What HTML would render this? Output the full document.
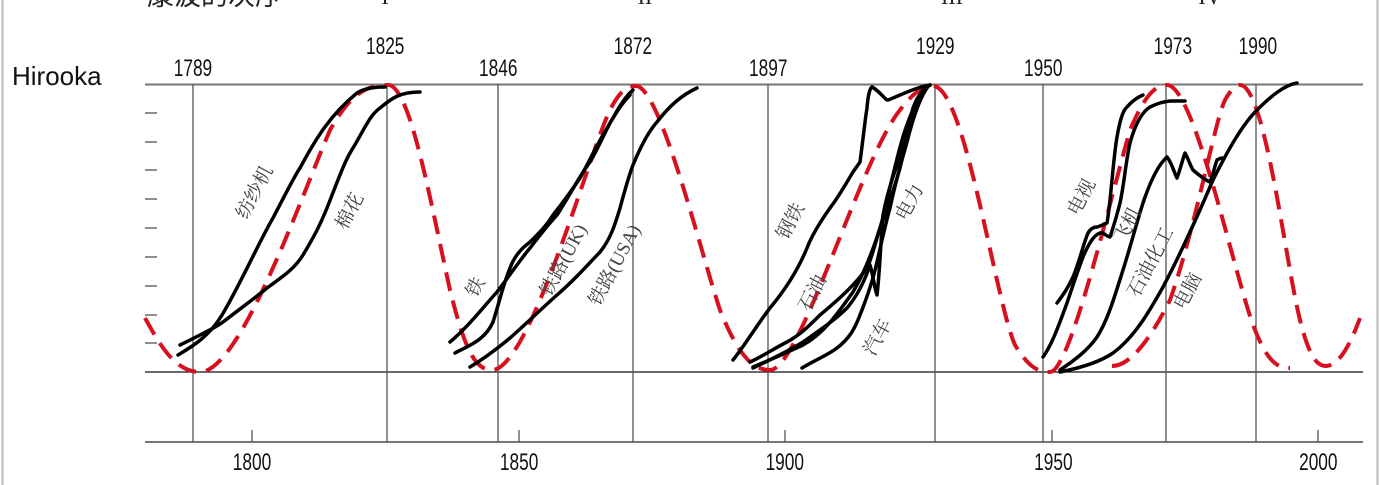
<!DOCTYPE html>
<html><head><meta charset="utf-8"><style>
html,body{margin:0;padding:0;background:#fff;}
svg{display:block;}
.t{font-family:"Liberation Sans",sans-serif;font-size:24px;fill:#111;}
.c{font-family:"Liberation Serif","Noto Serif CJK SC",serif;font-size:19px;fill:#444;}
</style></head><body>
<svg width="1380" height="485" viewBox="0 0 1380 485" xmlns="http://www.w3.org/2000/svg">
<rect x="0" y="0" width="1380" height="485" fill="#fff"/>
<line x1="2.5" y1="0" x2="2.5" y2="485" stroke="#bbb" stroke-width="2"/>
<line x1="1377.5" y1="0" x2="1377.5" y2="485" stroke="#bbb" stroke-width="2"/>
<text x="147" y="5" font-family="Liberation Sans,'Noto Sans CJK SC',sans-serif" font-size="27" fill="#222">康波的次序</text>
<g font-family="Liberation Serif,serif" font-size="22" fill="#222" text-anchor="middle">
<text x="385" y="4">I</text><text x="645" y="4">II</text><text x="952" y="4">III</text><text x="1210" y="4">IV</text>
</g>
<text x="12" y="85" font-family="Liberation Sans,sans-serif" font-size="26" fill="#111">Hirooka</text>
<line x1="145" y1="84.5" x2="1363" y2="84.5" stroke="#777" stroke-width="2"/>
<line x1="145" y1="372" x2="1363" y2="372" stroke="#111" stroke-width="1.3"/>
<line x1="145" y1="442" x2="1363" y2="442" stroke="#777" stroke-width="2"/>
<g stroke="#555" stroke-width="1.3">
<line x1="193" y1="84" x2="193" y2="442"/><line x1="387" y1="84" x2="387" y2="442"/>
<line x1="498" y1="84" x2="498" y2="442"/><line x1="633" y1="84" x2="633" y2="442"/>
<line x1="768" y1="84" x2="768" y2="442"/><line x1="935" y1="84" x2="935" y2="442"/>
<line x1="1043" y1="84" x2="1043" y2="442"/><line x1="1166" y1="84" x2="1166" y2="442"/>
<line x1="1256" y1="84" x2="1256" y2="442"/>
<line x1="252" y1="430" x2="252" y2="442"/><line x1="519" y1="430" x2="519" y2="442"/>
<line x1="785" y1="430" x2="785" y2="442"/><line x1="1052" y1="430" x2="1052" y2="442"/>
<line x1="1318" y1="430" x2="1318" y2="442"/>
<line x1="145" y1="113" x2="157" y2="113"/><line x1="145" y1="142" x2="157" y2="142"/>
<line x1="145" y1="170" x2="157" y2="170"/><line x1="145" y1="199" x2="157" y2="199"/>
<line x1="145" y1="228" x2="157" y2="228"/><line x1="145" y1="257" x2="157" y2="257"/>
<line x1="145" y1="286" x2="157" y2="286"/><line x1="145" y1="315" x2="157" y2="315"/>
<line x1="145" y1="343" x2="157" y2="343"/>
</g>
<g class="t" text-anchor="middle">
<g transform="scale(0.72,1)">
<text x="268" y="76">1789</text><text x="535" y="54">1825</text>
<text x="692" y="76">1846</text><text x="879" y="54">1872</text>
<text x="1067" y="76">1897</text><text x="1299" y="54">1929</text>
<text x="1449" y="76">1950</text><text x="1629" y="54">1973</text>
<text x="1747" y="54">1990</text>
<text x="350" y="470">1800</text><text x="721" y="470">1850</text>
<text x="1090" y="470">1900</text><text x="1463" y="470">1950</text>
<text x="1831" y="470">2000</text>
</g></g>
<g fill="none" stroke="#d7101f" stroke-width="4" stroke-dasharray="19,10">
<path d="M145,318 C160,345 175,372 200,372 C240,372 300,200 330,130 C350,95 365,85 388,85 C410,85 430,200 450,290 C465,350 475,370 492,370 C530,370 590,150 610,110 C620,90 628,86 636,86 C660,86 700,250 720,310 C740,360 755,370 770,370 C800,370 860,160 900,110 C915,90 925,86 933,86 C965,86 995,300 1015,345 C1030,370 1040,372 1050,372 C1070,372 1110,200 1130,130 C1145,95 1155,85 1167,85 C1195,85 1235,280 1255,330 C1268,362 1277,368 1290,368"/>
<path d="M1112,366 C1130,366 1150,340 1170,300 C1195,230 1215,120 1225,100 C1232,88 1236,85 1240,85 C1265,85 1285,260 1300,320 C1310,360 1318,366 1326,366 C1340,366 1352,340 1360,318"/>
</g>
<g fill="none" stroke="#000" stroke-width="3.5" stroke-linejoin="round" stroke-linecap="round">
<path d="M178,355 C195,345 210,335 222,315 C240,285 260,240 273,218 C285,195 295,175 300,168 C315,140 330,115 357,93 C365,88 375,87 385,87"/>
<path d="M180,345 C200,335 215,328 223,322 C245,305 255,298 267,288 C285,275 295,268 303,255 C315,235 320,225 327,208 C338,180 345,160 353,148 C365,128 370,115 380,108 C392,98 400,92 420,92"/>
<path d="M450,342 C470,325 485,305 497,292 C510,275 520,260 530,248 C540,235 548,225 557,215 C570,195 580,175 590,162 C600,145 608,125 613,118 C620,105 627,95 633,90"/>
<path d="M455,353 C470,345 485,340 493,322 C500,300 503,285 510,268 C515,255 522,248 530,242 C540,232 547,225 553,215 C565,200 572,190 580,178 C590,160 597,145 603,135 C612,120 620,105 630,95"/>
<path d="M470,367 C485,358 498,348 510,338 C525,325 540,310 557,295 C572,282 585,268 600,252 C610,240 615,225 620,208 C625,190 628,178 633,165 C640,148 648,132 657,122 C670,105 682,95 697,88"/>
<path d="M733,360 C745,345 757,325 770,308 C785,290 798,270 807,248 C810,240 812,237 813,235 C820,222 825,215 830,208 C840,195 848,180 853,172 C858,165 860,162 860,162 C863,140 865,120 867,108 C868,95 870,88 872,87 C878,90 882,96 887,100 C890,100 892,98 893,98 C905,93 918,87 930,85"/>
<path d="M750,362 C765,355 775,348 787,342 C800,335 810,325 820,315 C838,300 855,285 867,268 C873,255 876,240 880,228 C888,208 895,185 900,168 C905,145 910,120 913,108 C918,95 924,88 930,85"/>
<path d="M753,368 C770,360 790,350 803,342 C820,330 835,320 847,308 C858,295 865,280 870,265 C873,275 875,290 877,295 C880,270 881,235 883,215 C888,190 895,170 900,158 C908,135 913,110 920,95 C924,88 927,86 930,85"/>
<path d="M802,368 C815,360 828,355 837,348 C850,338 855,328 860,315 C868,295 873,280 877,262 C882,240 886,222 890,208 C896,180 902,160 907,142 C913,118 920,98 927,88"/>
<path d="M753,367 C770,360 788,352 803,345 C825,333 840,310 853,292 C865,272 873,250 880,228 C886,208 889,190 893,175 C898,155 902,137 907,125 C913,108 920,92 930,85"/>
<path d="M1057,303 C1063,295 1068,288 1073,277 C1080,260 1083,245 1088,233 C1091,228 1094,227 1097,227 C1101,226 1104,224 1107,223 C1111,200 1113,160 1117,137 C1120,120 1123,110 1127,107 C1133,100 1138,97 1143,95"/>
<path d="M1043,357 C1052,345 1060,322 1067,303 C1073,285 1078,270 1083,257 C1089,243 1094,235 1100,233 C1104,232 1107,237 1110,237 C1114,225 1117,215 1120,203 C1124,185 1126,160 1130,143 C1135,125 1142,112 1150,107 C1158,103 1163,102 1170,101 C1176,101 1180,101 1185,101"/>
<path d="M1060,370 C1075,360 1088,350 1097,337 C1108,320 1115,295 1123,270 C1130,248 1136,225 1143,203 C1150,182 1158,165 1167,157 C1172,163 1175,175 1177,178 C1180,170 1183,158 1185,153 C1188,158 1190,165 1193,170 C1200,176 1205,180 1210,182 C1213,175 1215,165 1217,160 C1219,159 1220,158 1222,158"/>
<path d="M1060,372 C1080,368 1100,362 1113,353 C1135,337 1150,310 1163,287 C1180,255 1198,215 1213,180 C1228,150 1242,125 1257,110 C1272,95 1285,85 1297,83"/>
</g>
<g class="c" text-anchor="middle">
<text transform="translate(260,195) rotate(-62)">纺纱机</text>
<text transform="translate(355,214) rotate(-62)">棉花</text>
<text transform="translate(481,290) rotate(-62)">铁</text>
<text transform="translate(569,263) rotate(-62)">铁路(UK)</text>
<text transform="translate(620,268) rotate(-62)">铁路(USA)</text>
<text transform="translate(796,224) rotate(-62)">钢铁</text>
<text transform="translate(818,296) rotate(-62)">石油</text>
<text transform="translate(883,340) rotate(-62)">汽车</text>
<text transform="translate(915,205) rotate(-62)">电力</text>
<text transform="translate(1087,200) rotate(-62)">电视</text>
<text transform="translate(1133,228) rotate(-62)">飞机</text>
<text transform="translate(1156,265) rotate(-62)">石油化工</text>
<text transform="translate(1193,294) rotate(-62)">电脑</text>
</g>
</svg>
</body></html>
